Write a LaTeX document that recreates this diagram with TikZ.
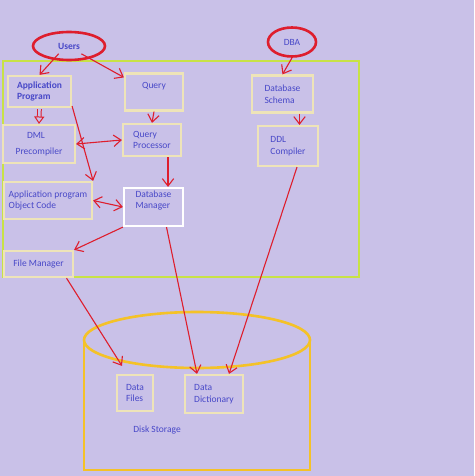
\documentclass[tikz,border=0pt]{standalone}
\usepackage{fontspec}
\setmainfont{Carlito}
\usetikzlibrary{arrows.meta,positioning,shapes.geometric}
\definecolor{bgpurple}{RGB}{201,193,232}
\definecolor{txtblue}{RGB}{72,72,200}
\definecolor{arrred}{RGB}{222,30,45}
\definecolor{boxcream}{RGB}{238,228,184}
\definecolor{linegreen}{RGB}{200,226,70}
\definecolor{diskgold}{RGB}{244,194,40}
\tikzset{
  mybox/.style = {rectangle, draw=boxcream, line width=2.2pt, text=txtblue, font=\fontsize{9.5}{11.5}\selectfont, align=left, inner sep=2pt},
  myuser/.style = {ellipse, draw=arrred, line width=2.6pt, text=txtblue, font=\fontsize{9.5}{11.5}\selectfont, inner sep=0pt},
  myarrow/.style = {draw=arrred, line width=1.1pt, -{Straight Barb[length=2.6mm,width=4mm]}},
  mytwoway/.style = {draw=arrred, line width=1.1pt, {Straight Barb[length=2.6mm,width=4mm]}-{Straight Barb[length=2.6mm,width=4mm]}},
}

\begin{document}
\begin{tikzpicture}[x=1pt,y=-1pt]
\fill[bgpurple] (0,0) rectangle (474,476);
\useasboundingbox (0,0) rectangle (474,476);
% system box
\draw[linegreen, line width=2.6pt] (3,61) rectangle (359,277);
% disk storage
\draw[diskgold, line width=2.6pt] (84,340) -- (84,470) -- (310,470) -- (310,340);
\draw[diskgold, line width=2.6pt] (197,340) ellipse (113pt and 28pt);
\node[text=txtblue, font=\fontsize{9.5}{11.5}\selectfont] (disk) at (157,430) {Disk Storage};

% actors
\node[myuser, minimum width=72pt, minimum height=28pt, font=\bfseries\fontsize{9.5}{11.5}\selectfont] (users) at (69,46) {Users};
\node[myuser, minimum width=48pt, minimum height=29pt] (dba) at (292,42) {DBA};

% boxes
\node[mybox, minimum width=63pt, minimum height=31pt, font=\bfseries\fontsize{9.5}{11.5}\selectfont] (app) at (39.5,91.5) {Application\\Program};
\node[mybox, minimum width=58pt, minimum height=37pt] (query) at (154,92) {Query\\[1pt]};
\node[mybox, minimum width=61pt, minimum height=37pt] (schema) at (282.5,94) {Database\\Schema};
\node[mybox, minimum width=72pt, minimum height=38pt] (dml) at (39,144) {\hspace*{1.2em}DML\\[5pt]Precompiler};
\node[mybox, minimum width=58pt, minimum height=32pt] (qproc) at (152,140) {Query\\Processor};
\node[mybox, minimum width=60pt, minimum height=40pt] (ddl) at (288,146) {DDL\\Compiler};
\node[mybox, minimum width=88pt, minimum height=37pt] (objcode) at (48,200.5) {Application program\\Object Code};
\node[mybox, draw=white, minimum width=59pt, minimum height=38pt] (dbman) at (153.5,207) {Database\\Manager\\[3pt]};
\node[mybox, minimum width=69pt, minimum height=26pt] (fileman) at (38.5,264) {File Manager};
\node[mybox, minimum width=36pt, minimum height=36pt] (dfiles) at (135,393) {Data\\Files};
\node[mybox, minimum width=58pt, minimum height=38pt] (ddict) at (214,394) {Data\\Dictionary};

% connectors
\draw[myarrow] (users.south west) ++(16,-3) coordinate (u1) (u1) -- (app.north);
\draw[myarrow] (users.south east) ++(-14,-3) coordinate (u2) (u2) -- ([yshift=-5pt]query.north west);
\draw[arrred, line width=1pt, double=bgpurple, double distance=2.6pt, -{Triangle[open,length=2.6mm,width=3.6mm]}] ([yshift=-1pt]app.south) -- (dml.north);
\draw[myarrow] (app.south east) ++(0,-2) coordinate (a1) (a1) -- (objcode.north east);
\draw[mytwoway] (dml.east) -- (qproc.west);
\draw[myarrow] (query.south) -- (qproc.north);
\draw[myarrow] (qproc.south) ++(16,0) coordinate (q1) (q1) -- (q1 |- dbman.north);
\draw[mytwoway] (objcode.east) -- (dbman.west);
\draw[myarrow] (dbman.south west) -- (fileman.north east);
\draw[myarrow] (fileman.south) ++(28,0) coordinate (f1) (f1) -- ([xshift=-13pt, yshift=8pt]dfiles.north);
\draw[myarrow] (dbman.south) ++(13,0) coordinate (m1) (m1) -- ([xshift=-17pt]ddict.north);
\draw[myarrow] (ddl.south) ++(9,0) coordinate (c1) (c1) -- ([xshift=15pt]ddict.north);
\draw[myarrow] (dba.south) -- (schema.north);
\draw[myarrow] (schema.south) ++(17,0) coordinate (s1) (s1) -- (s1 |- ddl.north);
\end{tikzpicture}
\end{document}
